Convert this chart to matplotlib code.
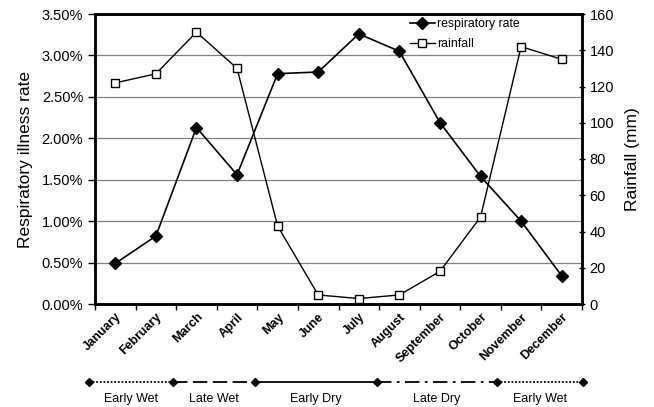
import numpy as np
from matplotlib import pyplot as plt
from matplotlib.ticker import FuncFormatter, MultipleLocator

plt.rcParams["font.family"] = ["Liberation Sans", "DejaVu Sans"]

# Data
months = ["January", "February", "March", "April", "May", "June",
          "July", "August", "September", "October", "November", "December"]
resp_rate = [0.49, 0.82, 2.13, 1.56, 2.78, 2.80, 3.26, 3.05, 2.19, 1.54, 1.00, 0.34]  # %
rainfall = [122, 127, 150, 130, 43, 5, 3, 5, 18, 48, 142, 135]  # mm

# seasons: boundaries in month-index units
season_names = ["Early Wet", "Late Wet", "Early Dry", "Late Dry", "Early Wet"]
season_edges = [-0.65, 1.42, 3.44, 6.45, 9.41, 11.53]
season_styles = [(0, (1, 1)), (0, (8, 3)), "-", (0, (8, 3, 1.5, 3)), (0, (1, 1))]

W, H = 654, 407
fig = plt.figure(figsize=(W / 100, H / 100), dpi=100)
ax_l, ax_r, ax_t, ax_b = 95, 582, 14, 304
ax = fig.add_axes([ax_l / W, 1 - ax_b / H, (ax_r - ax_l) / W, (ax_b - ax_t) / H])
x = np.arange(len(months))

# Gridlines from the left axis
ax.set_ylim(0, 3.5)
ax.yaxis.set_major_locator(MultipleLocator(0.5))
ax.yaxis.set_major_formatter(FuncFormatter(lambda v, p: f"{v:.2f}%"))
ax.grid(axis="y", color="#808080", lw=0.9)
ax.set_axisbelow(True)

l1, = ax.plot(x, resp_rate, color="black", lw=1.2, marker="D", ms=6,
              mfc="black", mec="black", label="respiratory rate", zorder=3)
ax.set_xlim(-0.5, 11.5)
ax.set_xticks(x)
ax.set_xticklabels(months, rotation=45, ha="right", rotation_mode="anchor",
                   fontsize=9, fontweight="bold")
ax.tick_params(axis="x", length=0, pad=5)
ax.set_xticks(np.arange(-0.5, 12, 1), minor=True)
ax.tick_params(axis="x", which="minor", length=4, width=1, direction="out")
ax.tick_params(axis="y", labelsize=10.5, length=5, width=1, direction="out")
ax.set_ylabel("Respiratory illness rate", fontsize=12.5, labelpad=6)

ax2 = ax.twinx()
l2, = ax2.plot(x, rainfall, color="black", lw=1.0, marker="s", ms=6,
               mfc="white", mec="black", label="rainfall", zorder=3)
ax2.set_ylim(0, 160)
ax2.yaxis.set_major_locator(MultipleLocator(20))
ax2.tick_params(axis="y", labelsize=10.5, length=5, width=1, direction="inout", pad=3)
ax2.set_ylabel("Rainfall (mm)", fontsize=12.5, labelpad=8)

for a in (ax, ax2):
    for s in a.spines.values():
        s.set_linewidth(1.8)

leg = ax2.legend(handles=[l1, l2], loc="upper left", bbox_to_anchor=(0.647, 0.985),
                 frameon=False, fontsize=8.8, handlelength=2.0,
                 handletextpad=0.2, labelspacing=0.65, borderaxespad=0,
                 borderpad=0)

# Season strip below the chart, same x scale as the main axes
px_per_month = (ax_r - ax_l) / 12
sx = fig.add_axes([0, 0, 1, 1])
sx.set_xlim(-0.5 - ax_l / px_per_month, -0.5 + (W - ax_l) / px_per_month)
sx.set_ylim(H, 0)
sx.axis("off")
line_y = 382
for i, name in enumerate(season_names):
    x0, x1 = season_edges[i], season_edges[i + 1]
    sx.plot([x0, x1], [line_y, line_y], color="black", lw=1.3,
            linestyle=season_styles[i])
    sx.text((x0 + x1) / 2, 399, name, ha="center", va="center", fontsize=9)
sx.plot(season_edges, [line_y] * len(season_edges), linestyle="none",
        marker="D", ms=4, color="black")

fig.savefig("out.png", dpi=100)
